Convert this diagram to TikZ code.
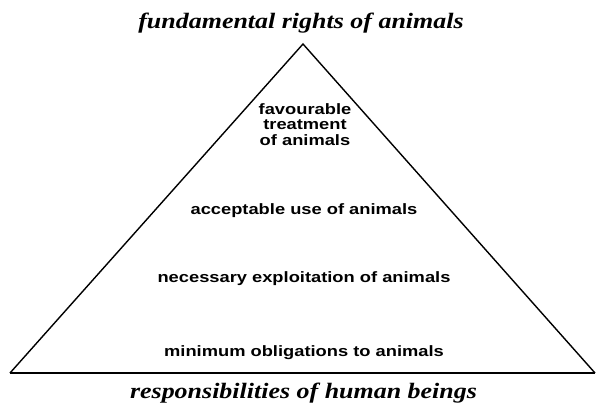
\documentclass[tikz,border=0pt]{standalone}
\usepackage{fontspec}
\setmainfont{Liberation Serif}
\setsansfont{Liberation Sans}
\newfontfamily\lvlfont[FakeStretch=1.22]{Liberation Sans}
\newfontfamily\ttlfont[FakeStretch=1.18]{Liberation Serif}
\begin{document}
\begin{tikzpicture}[x=1pt,y=-1pt,
  level/.style={font=\lvlfont\bfseries\fontsize{15}{15.5}\selectfont, align=center, inner sep=0pt, anchor=base},
  title/.style={font=\ttlfont\bfseries\itshape\fontsize{22}{24}\selectfont, inner sep=0pt, anchor=base}]
\useasboundingbox (0,0) rectangle (597,410);
\coordinate (apex) at (303,44);
\coordinate (bl) at (10,373);
\coordinate (br) at (595,373);
\draw[line width=1.4pt, line join=miter] (bl) -- (apex) -- (br);
\draw[line width=2pt] (bl) -- (br);
\node[title] (top) at (301,28) {fundamental rights of animals};
\node[title] (bottom) at (303.5,398) {responsibilities of human beings};
\node[level] (l1a) at (305,114) {favourable};
\node[level] (l1b) at (305,129.5) {treatment};
\node[level] (l1c) at (305,145) {of animals};
\node[level] (l2) at (304,214) {acceptable use of animals};
\node[level] (l3) at (304,282) {necessary exploitation of animals};
\node[level] (l4) at (304,356) {minimum obligations to animals};
\end{tikzpicture}
\end{document}
